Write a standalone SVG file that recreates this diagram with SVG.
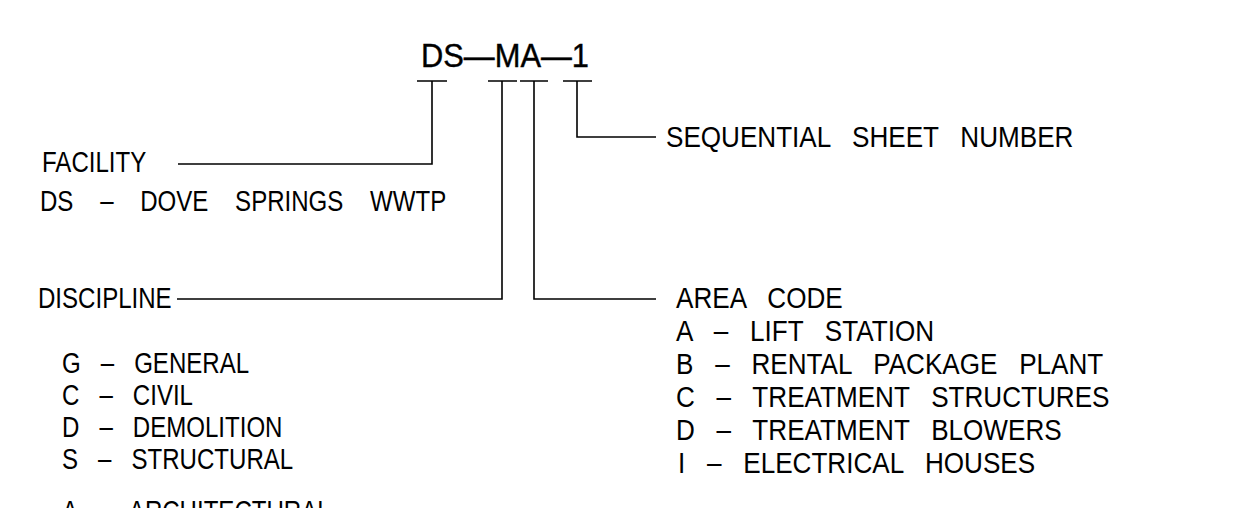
<svg xmlns="http://www.w3.org/2000/svg" width="1242" height="508" viewBox="0 0 1242 508" xml:space="preserve">
<style>
.t{font-family:"Liberation Sans",Arial,sans-serif;font-size:29px;fill:#000;white-space:pre}
.title{font-family:"Liberation Sans",Arial,sans-serif;font-size:33px;fill:#000;stroke:#000;stroke-width:0.4}
.c{fill:none;stroke:#000;stroke-width:1.6}
</style>
<rect width="1242" height="508" fill="#fff"/>
<g id="title"><text class="title" x="421" y="67" textLength="168" lengthAdjust="spacingAndGlyphs">DS—MA—1</text></g>
<g id="connectors">
<path class="c" d="M417 81H447M432 81V164H178"/>
<path class="c" d="M488 81H517M502 81V299H177"/>
<path class="c" d="M520 81H548M534 81V299H656"/>
<path class="c" d="M563 81H592M577 81V137H656"/>
</g>
<g id="facility">
<text class="t" transform="translate(42,172) scale(0.83,1)">FACILITY</text>
<text class="t" transform="translate(40,211) scale(0.83,1)">DS    –    DOVE    SPRINGS    WWTP</text>
</g>
<g id="discipline">
<text class="t" transform="translate(38,308) scale(0.83,1)">DISCIPLINE</text>
<text class="t" transform="translate(62,373) scale(0.83,1)">G   –   GENERAL</text>
<text class="t" transform="translate(62,405) scale(0.83,1)">C   –   CIVIL</text>
<text class="t" transform="translate(62,437) scale(0.83,1)">D   –   DEMOLITION</text>
<text class="t" transform="translate(62,469) scale(0.83,1)">S   –   STRUCTURAL</text>
<text class="t" transform="translate(62,521) scale(0.83,1)">A   –   ARCHITECTURAL</text>
</g>
<g id="area">
<text class="t" transform="translate(676,308) scale(0.9,1)">AREA   CODE</text>
<text class="t" transform="translate(676,341) scale(0.9,1)">A   –   LIFT   STATION</text>
<text class="t" transform="translate(676,374) scale(0.9,1)">B   –   RENTAL   PACKAGE   PLANT</text>
<text class="t" transform="translate(676,407) scale(0.9,1)">C   –   TREATMENT   STRUCTURES</text>
<text class="t" transform="translate(676,440) scale(0.9,1)">D   –   TREATMENT   BLOWERS</text>
<text class="t" transform="translate(678,473) scale(0.9,1)">I   –   ELECTRICAL   HOUSES</text>
</g>
<g id="sheet">
<text class="t" transform="translate(666,147) scale(0.9,1)">SEQUENTIAL   SHEET   NUMBER</text>
</g>
</svg>
